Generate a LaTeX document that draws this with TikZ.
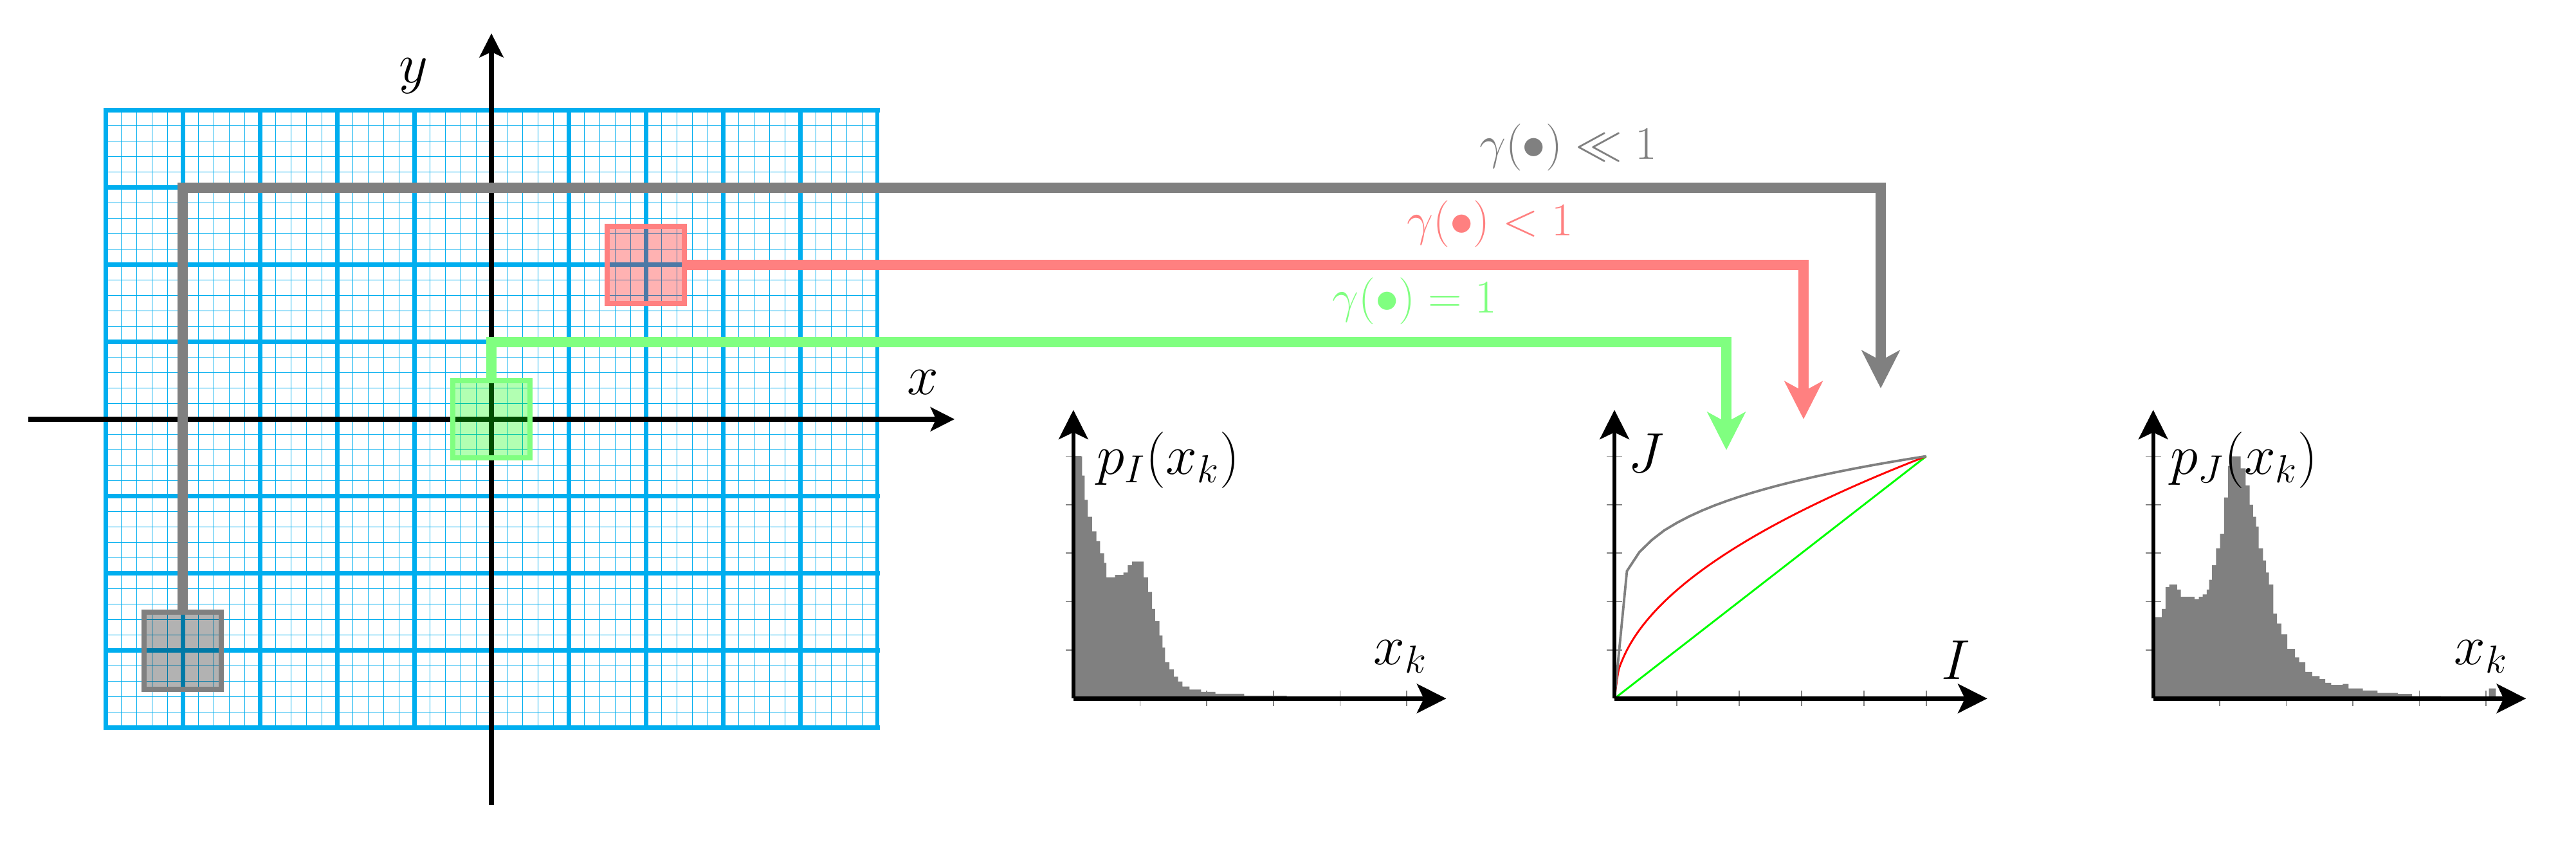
\documentclass[tikz,border=0pt]{standalone}
\usepackage{amsmath, amssymb}
\usetikzlibrary{arrows.meta}

\begin{document}
\begin{tikzpicture}[
    mainaxis/.style={line width=2.1pt, -{Stealth[length=0.31cm, width=0.31cm, inset=0.07cm]}},
    plotaxis/.style={line width=1.5pt, -{Stealth[length=0.38cm, width=0.38cm, inset=0.09cm]}},
    link/.style={line width=3.9pt, -{Stealth[length=0.49cm, width=0.49cm, inset=0.13cm]}},
    pixbox/.style={rectangle, line width=1.9pt, minimum size=1cm, inner sep=0pt, fill opacity=0.3},
    tickmark/.style={draw=midgray, line width=0.4pt},
    biglabel/.style={font=\fontsize{22}{26}\selectfont},
    gammalabel/.style={font=\fontsize{17}{20}\selectfont},
  ]
  % Define colors
  \definecolor{gridblue}{RGB}{0,174,239}
  \definecolor{midgray}{RGB}{128,128,128}
  \definecolor{softred}{RGB}{255,128,128}
  \definecolor{softgreen}{RGB}{128,255,128}

  \useasboundingbox (-6.367,-5.492) rectangle (27.008,5.433);

  % Image grid, fine and coarse
  \draw[gridblue, line width=0.25pt] (-5,-4) grid[step=0.2] (5,4);
  \draw[gridblue, line width=1.65pt, line cap=rect] (-5,-4) grid[step=1] (5,4);

  % Image axes
  \coordinate (xfrom) at (-6,0);
  \coordinate (xto) at (6,0);
  \coordinate (yfrom) at (0,-5);
  \coordinate (yto) at (0,5);
  \draw[mainaxis] (xfrom) -- (xto);
  \draw[mainaxis] (yfrom) -- (yto);
  \node[biglabel] (xlabel) at (5.59,0.48) {$x$};
  \node[biglabel] (ylabel) at (-1.01,4.45) {$y$};

  % Pixel neighbourhoods
  \node[pixbox, draw=midgray, fill=black] (kbox) at (-4,-3) {};
  \node[pixbox, draw=softred, fill=red] (rbox) at (2,2) {};
  \node[pixbox, draw=softgreen, fill=green] (gbox) at (0,0) {};

  % Routes to the transfer curves
  \coordinate (kbend) at (-4,3);
  \coordinate (kturn) at (18,3);
  \coordinate (ktip) at (18,0.4);
  \coordinate (rturn) at (17,2);
  \coordinate (rtip) at (17,0);
  \coordinate (gbend) at (0,1);
  \coordinate (gturn) at (16,1);
  \coordinate (gtip) at (16,-0.4);
  \draw[link, midgray] (kbox.north) -- (kbend) -- (kturn) -- (ktip);
  \draw[link, softred] (rbox.east) -- (rturn) -- (rtip);
  \draw[link, softgreen] (gbox.north) -- (gbend) -- (gturn) -- (gtip);
  \node[gammalabel, text=midgray] (klabel) at (13.95,3.52) {$\gamma(\bullet) \ll 1$};
  \node[gammalabel, text=softred] (rlabel) at (12.94,2.53) {$\gamma(\bullet) < 1$};
  \node[gammalabel, text=softgreen] (glabel) at (11.96,1.53) {$\gamma(\bullet) = 1$};

  % Plot frames: origin, x tip, y tip and ticks
  \foreach \n/\ox/\w in {pI/7.54/4.32, tc/14.55/4.04, pJ/21.53/4.31} {
    \coordinate (\n o) at (\ox,-3.62);
    \coordinate (\n x) at (\ox+4.83,-3.62);
    \coordinate (\n y) at (\ox,0.12);
    \foreach \k in {1,...,5} {
      \draw[tickmark] (\ox+\k*\w/5,-3.72) -- (\ox+\k*\w/5,-3.52);
      \draw[tickmark] (\ox-0.1,-3.62+\k*0.628) -- (\ox+0.1,-3.62+\k*0.628);
    }
  }

  % Histogram of I
  \begin{scope}[shift={(pIo)}, xscale=4.32, yscale=3.14]
    \fill[midgray] (0,0) \foreach \x/\h in {0/1.0, 0.026/0.92, 0.034/0.82, 0.043/0.75,
        0.056/0.69, 0.069/0.65, 0.080/0.60, 0.092/0.56, 0.099/0.50, 0.125/0.51,
        0.150/0.52, 0.163/0.55, 0.176/0.565, 0.211/0.50, 0.224/0.44, 0.236/0.37,
        0.245/0.32, 0.258/0.26, 0.267/0.21, 0.275/0.15, 0.288/0.12, 0.301/0.09,
        0.314/0.07, 0.327/0.05, 0.348/0.037, 0.383/0.028, 0.426/0.02, 0.512/0.012,
        0.64/0.008, 0.81/0.004} { -| (\x,\h) } -| (1.03,0) -- cycle;
  \end{scope}

  % Transfer curves
  \begin{scope}[shift={(tco)}, xscale=4.04, yscale=3.14]
    \draw[green, line width=0.7pt] (0,0) -- (1,1);
    \draw[red, line width=0.7pt] plot[domain=0:1, samples=80, smooth] (\x,{sqrt(\x)});
    \draw[midgray, line width=0.9pt] (0,0) -- plot[domain=0.04:1, samples=25] (\x,{\x^0.2});
  \end{scope}

  % Histogram of J
  \begin{scope}[shift={(pJo)}, xscale=4.31, yscale=3.14]
    \fill[midgray] (0,0) \foreach \x/\h in {0/0.335, 0.026/0.37, 0.037/0.46, 0.048/0.47,
        0.072/0.45, 0.083/0.42, 0.124/0.41, 0.137/0.42, 0.149/0.43, 0.161/0.45,
        0.168/0.49, 0.177/0.55, 0.189/0.62, 0.201/0.68, 0.213/0.83, 0.225/0.96,
        0.235/1.0, 0.263/0.95, 0.278/0.88, 0.290/0.80, 0.300/0.75, 0.309/0.71,
        0.317/0.62, 0.330/0.57, 0.339/0.52, 0.348/0.47, 0.361/0.35, 0.372/0.31,
        0.385/0.265, 0.403/0.205, 0.426/0.17, 0.439/0.15, 0.457/0.11, 0.478/0.093,
        0.500/0.08, 0.517/0.065, 0.535/0.056, 0.570/0.06, 0.587/0.042, 0.630/0.033,
        0.674/0.023, 0.735/0.019, 0.778/0.01, 0.865/0.004, 1.009/0.042} { -| (\x,\h) } -| (1.03,0) -- cycle;
  \end{scope}

  % Plot axes
  \foreach \n in {pI, tc, pJ} {
    \draw[plotaxis] (\n o) -- (\n x);
    \draw[plotaxis] (\n o) -- (\n y);
  }

  % Plot labels
  \node[biglabel] (pIlabel) at (8.77,-0.53) {$p_I(x_k)$};
  \node[biglabel] (pIxk) at (11.78,-3.08) {$x_k$};
  \node[biglabel] (tcJ) at (14.96,-0.44) {$J$};
  \node[biglabel] (tcI) at (18.97,-3.12) {$I$};
  \node[biglabel] (pJlabel) at (22.71,-0.53) {$p_J(x_k)$};
  \node[biglabel] (pJxk) at (25.78,-3.08) {$x_k$};
\end{tikzpicture}
\end{document}
